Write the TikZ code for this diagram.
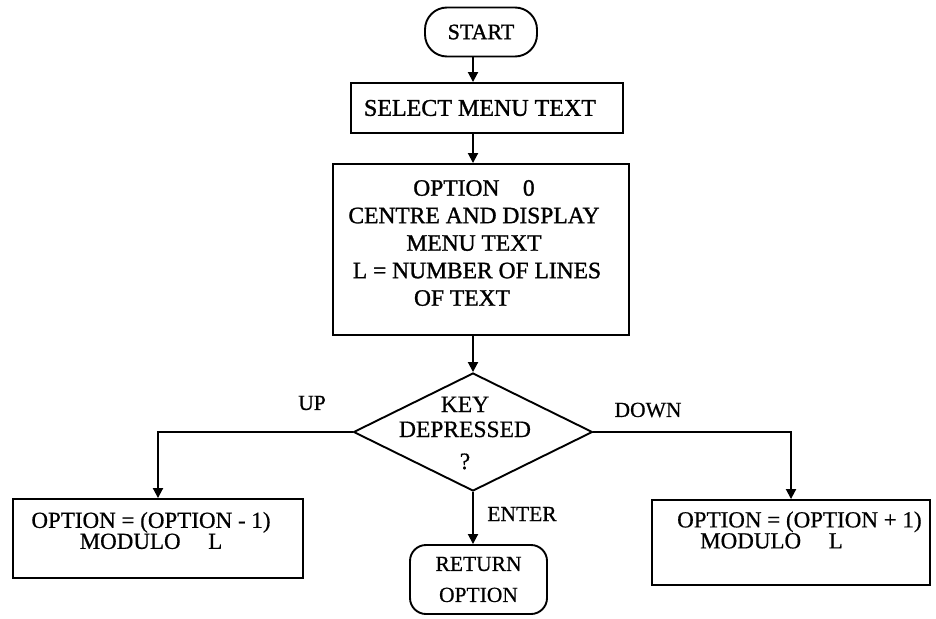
\documentclass[tikz,border=0pt]{standalone}
\usepackage{fontspec}
\setmainfont{Liberation Serif}
% slightly heavier faces for the printed look of the chart text
\newfontfamily\inkheavy{Liberation Serif}[RawFeature={embolden=1.2}]
\newfontfamily\inklight{Liberation Serif}[RawFeature={embolden=0.6}]
\usetikzlibrary{shapes.geometric,arrows.meta}

\begin{document}
\begin{tikzpicture}[x=1pt,y=-1pt,
  every node/.style={inner sep=0pt, font=\inklight\fontsize{22}{26}\selectfont},
  arr/.style={line width=1.9pt, -{Triangle[length=10pt,width=10pt]}},
  boxed/.style={draw, rectangle, line width=1.9pt},
  terminal/.style={draw, rectangle, line width=1.9pt, rounded corners=22pt},
  decision/.style={draw, diamond, line width=1.9pt, inner sep=0pt},
  lbl/.style={font=\inklight\fontsize{21.5}{26}\selectfont}
]
\useasboundingbox (0,0) rectangle (936,618);

% main column
\node[terminal, minimum width=112pt, minimum height=49pt,
      font=\inkheavy\fontsize{22}{26}\selectfont] (start) at (481,32) {START};
\node[boxed, minimum width=272pt, minimum height=50pt,
      font=\inkheavy\fontsize{24}{26}\selectfont] (select) at (487,108) {SELECT MENU TEXT\hspace*{14pt}};
\node[boxed, minimum width=296pt, minimum height=171pt] (main) at (481,249.5) {};
\node[align=center, font=\inkheavy\fontsize{23.5}{27.5}\selectfont] (maintext) at (474,243)
  {OPTION\hspace{1em}0\\CENTRE AND DISPLAY\\MENU TEXT\hspace*{16pt}\\\hspace*{6pt}L = NUMBER OF LINES\\OF TEXT\hspace*{24pt}};

% decision
\node[decision, minimum width=239pt, minimum height=118pt] (dia) at (473,432) {};
\node[align=center, font=\inklight\fontsize{23.5}{25}\selectfont] (diatext) at (465,433)
  {KEY\\DEPRESSED\\[7pt]?};

% outcomes
\node[boxed, minimum width=290pt, minimum height=79pt] (left) at (158,538.5) {};
\node[align=center, font=\inklight\fontsize{23}{21}\selectfont] (lefttext) at (151,530.5)
  {OPTION = (OPTION - 1)\\MODULO\hspace{1.2em}L};

\node[boxed, minimum width=278pt, minimum height=85pt] (right) at (791,542.5) {};
\node[align=left, anchor=west, font=\inklight\fontsize{23}{21}\selectfont] (righttext) at (677,530)
  {OPTION = (OPTION + 1)\\\hspace*{23pt}MODULO\hspace{1.2em}L};

\node[terminal, rounded corners=16pt, minimum width=137pt, minimum height=69pt,
      align=center, font=\inklight\fontsize{21.5}{31}\selectfont] (ret) at (478.5,579.5) {RETURN\\OPTION};

% branch labels
\node[lbl] (up) at (312,403) {UP};
\node[lbl] (down) at (648,410) {DOWN};
\node[lbl] (enter) at (522,514) {ENTER};

% connectors
\draw[arr] (start.south -| dia.north) -- (select.north -| dia.north);
\draw[arr] (select.south -| dia.north) -- (main.north -| dia.north);
\draw[arr] (main.south -| dia.north) -- (dia.north);
\draw[arr] (dia.west) -| (left.north);
\draw[arr] (dia.east) -| (right.north);
\draw[arr] (dia.south) -- (dia.south |- ret.north);
\end{tikzpicture}
\end{document}
